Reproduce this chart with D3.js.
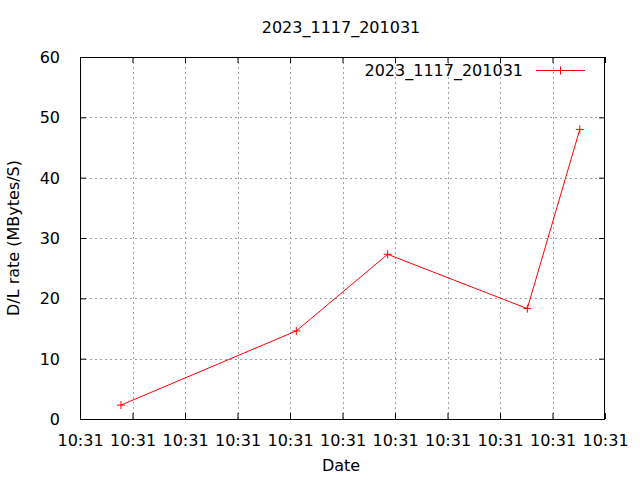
<!DOCTYPE html>
<html><head><meta charset="utf-8">
<script src="https://cdn.jsdelivr.net/npm/d3@7"></script>
<style>body{margin:0;background:#fff}text{font-family:"DejaVu Sans",sans-serif;font-size:16px;fill:#000}</style>
</head><body><svg id="c" width="640" height="480"></svg>
<script>
const title = "2023_1117_201031";
const seriesName = "2023_1117_201031";
const xLabel = "Date";
const yLabel = "D/L rate (MBytes/S)";
// timestamps (seconds after 10:31:00) and rates
const times = [3.9, 20.6, 29.3, 42.6, 47.6];
const rates = [2.3, 14.6, 27.3, 18.3, 48.0];
const yTicks = [0, 10, 20, 30, 40, 50, 60];
const xTickSeconds = [0, 5, 10, 15, 20, 25, 30, 35, 40, 45, 50];

const base = new Date(2023, 10, 17, 10, 31, 0);
const toDate = s => new Date(base.getTime() + s * 1000);
const data = times.map((t, i) => ({ t: toDate(t), v: rates[i] }));

const L = 80, R = 605, T = 57, B = 419;
const svg = d3.select("#c");
const x = d3.scaleTime().domain([toDate(0), toDate(50)]).range([L, R]);
const y = d3.scaleLinear().domain([0, 60]).range([B, T]);
const fmt = d3.timeFormat("%H:%M");
const xTickVals = xTickSeconds.map(toDate);

// grid
const grid = svg.append("g").attr("stroke", "#a0a0a0").attr("stroke-width", 1).attr("stroke-dasharray", "2,3");
xTickVals.slice(1, -1).forEach(d => {
  grid.append("line").attr("x1", Math.round(x(d)) + 0.5).attr("x2", Math.round(x(d)) + 0.5).attr("y1", T).attr("y2", B);
});
yTicks.slice(1, -1).forEach(d => {
  grid.append("line").attr("x1", L).attr("x2", R).attr("y1", Math.round(y(d)) + 0.5).attr("y2", Math.round(y(d)) + 0.5);
});

// axes (ticks inward, mirrored)
const tl = 6;
const axB = svg.append("g").attr("transform", `translate(0,${B})`)
  .call(d3.axisBottom(x).tickValues(xTickVals).tickFormat(fmt).tickSizeInner(-tl).tickSizeOuter(0).tickPadding(16));
const axT = svg.append("g").attr("transform", `translate(0,${T})`)
  .call(d3.axisTop(x).tickValues(xTickVals).tickFormat("").tickSizeInner(-tl).tickSizeOuter(0));
const axL = svg.append("g").attr("transform", `translate(${L},0)`)
  .call(d3.axisLeft(y).tickValues(yTicks).tickSizeInner(-tl).tickSizeOuter(0).tickPadding(20));
const axR = svg.append("g").attr("transform", `translate(${R},0)`)
  .call(d3.axisRight(y).tickValues(yTicks).tickFormat("").tickSizeInner(-tl).tickSizeOuter(0));
[axB, axT, axL, axR].forEach(a => {
  a.select(".domain").remove();
  a.selectAll("line").attr("stroke", "#000");
  a.selectAll("text").attr("font-family", "DejaVu Sans").attr("font-size", 16).attr("fill", "#000");
});
axL.selectAll("text").attr("dy", "0.35em");

// border
svg.append("rect").attr("x", L + 0.5).attr("y", T + 0.5).attr("width", R - L - 1).attr("height", B - T)
  .attr("fill", "none").attr("stroke", "#000").attr("stroke-width", 1);

// line
const line = d3.line().x(d => x(d.t)).y(d => y(d.v));
svg.append("path").datum(data).attr("d", line).attr("fill", "none").attr("stroke", "#ff0000").attr("stroke-width", 1);
const m = 4;
const pts = svg.append("g").attr("stroke", "#ff0000").attr("stroke-width", 1);
data.forEach(d => {
  const px = x(d.t), py = y(d.v);
  pts.append("line").attr("x1", px - m).attr("x2", px + m).attr("y1", py).attr("y2", py);
  pts.append("line").attr("x1", px).attr("x2", px).attr("y1", py - m).attr("y2", py + m);
});

// legend
svg.append("text").attr("x", 523).attr("y", 76).attr("text-anchor", "end").text(seriesName);
svg.append("line").attr("x1", 536).attr("x2", 585).attr("y1", 70.5).attr("y2", 70.5).attr("stroke", "#ff0000");
svg.append("line").attr("x1", 560.5).attr("x2", 560.5).attr("y1", 66.5).attr("y2", 74.5).attr("stroke", "#ff0000");

// titles
svg.append("text").attr("x", 341).attr("y", 33).attr("text-anchor", "middle").text(title);
svg.append("text").attr("x", 341).attr("y", 471).attr("text-anchor", "middle").text(xLabel);
svg.append("text").attr("transform", "translate(19,238) rotate(-90)").attr("text-anchor", "middle").text(yLabel);
</script></body></html>
